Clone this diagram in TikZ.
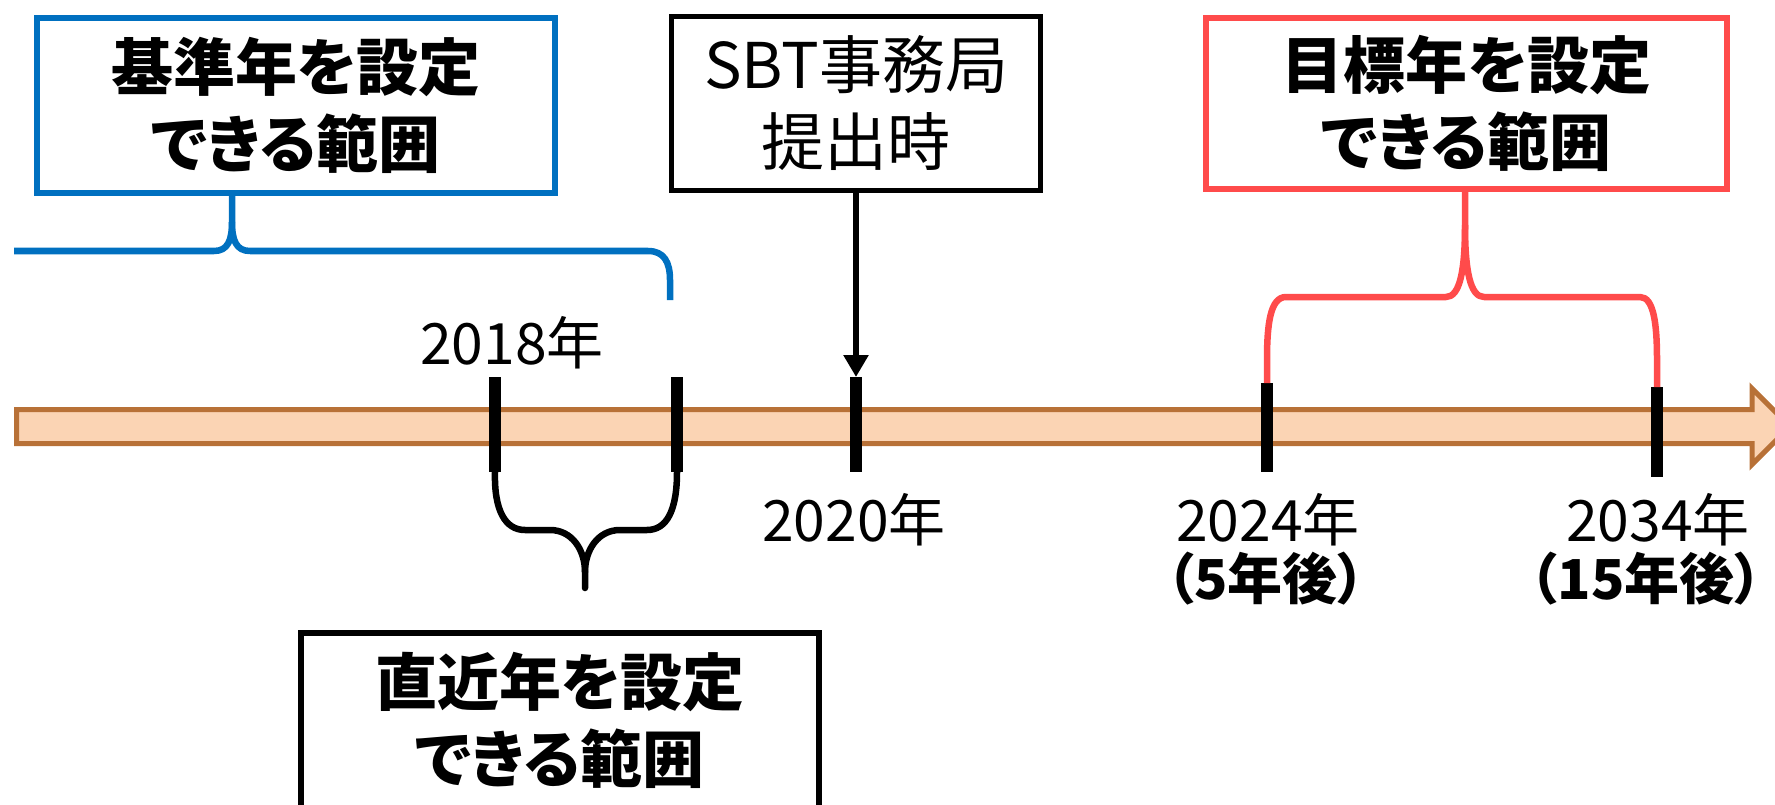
\documentclass[tikz,border=0pt]{standalone}
\usepackage{fontspec}
\setmainfont{Noto Sans CJK JP}
\newfontfamily\jp{Noto Sans CJK JP}
\newfontfamily\jpp{Noto Sans CJK JP}[RawFeature=+palt]
\usetikzlibrary{arrows.meta}
\definecolor{bblue}{HTML}{0070C0}
\definecolor{rred}{HTML}{FF4B4B}
\definecolor{tlfill}{HTML}{FBD4B4}
\definecolor{tlline}{HTML}{B87137}
\tikzset{
  rangebox/.style={draw, line width=6pt, fill=white, inner sep=0pt, align=center,
     font=\jpp\bfseries\fontsize{62}{77}\selectfont},
  plainbox/.style={draw=black, line width=5pt, fill=white, inner sep=0pt, align=center,
     font=\jp\fontsize{63}{77}\selectfont},
  yearlbl/.style={inner sep=0pt, font=\jp\fontsize{57}{60}\selectfont},
  afterlbl/.style={inner sep=0pt, font=\jpp\bfseries\fontsize{55}{60}\selectfont},
  tick/.style={line width=12pt, line cap=butt, black},
  brace/.style={line width=6.5pt, line cap=round, line join=round},
}
\begin{document}
\begin{tikzpicture}[x=1pt,y=-1pt]
\useasboundingbox (0,0) rectangle (1775,805);
% timeline arrow
\draw[line width=5pt, draw=tlline, fill=tlfill, line join=miter]
  (16.5,409.5) -- (1752,409.5) -- (1752,388.5) -- (1790,426.5) -- (1752,464.5)
  -- (1752,443.5) -- (16.5,443.5) -- cycle;
% ticks
\coordinate (t18a) at (495,377); \coordinate (t18ab) at (495,472);
\coordinate (t18b) at (677,377); \coordinate (t18bb) at (677,472);
\coordinate (t20) at (856,377);  \coordinate (t20b) at (856,472);
\coordinate (t24) at (1267,383); \coordinate (t24b) at (1267,472);
\coordinate (t34) at (1657,387); \coordinate (t34b) at (1657,477);
\draw[tick] (t18a) -- (t18ab);
\draw[tick] (t18b) -- (t18bb);
\draw[tick] (t20) -- (t20b);
\draw[tick] (t24) -- (t24b);
\draw[tick] (t34) -- (t34b);
% boxes
\node[rangebox, draw=bblue, minimum width=518pt, minimum height=175pt] (base) at (296,105.5)
  {基準年を設定\\できる範囲};
\node[plainbox, minimum width=369pt, minimum height=174pt] (sbt) at (856,103.5)
  {SBT事務局\\提出時};
\node[rangebox, draw=rred, minimum width=521pt, minimum height=171pt] (target) at (1466.5,103.5)
  {目標年を設定\\できる範囲};
\node[rangebox, draw=black, minimum width=518pt, minimum height=175pt] (recent) at (560,720.5)
  {直近年を設定\\できる範囲};
% labels
\node[yearlbl] (l18) at (512,343) {2018年};
\node[yearlbl] (l20) at (854,520) {2020年};
\node[yearlbl] (l24) at (1268,520) {2024年};
\node[yearlbl] (l34) at (1658,520) {2034年};
\node[afterlbl] (a24) at (1266,579) {（5年後）};
\node[afterlbl] (a34) at (1646,579) {（15年後）};
% arrow
\draw[line width=6.5pt, -{Triangle[width=24pt,length=22pt]}] (sbt.south) -- (t20);
% blue brace
\coordinate (bL) at (14,251);
\coordinate (bC) at (232,196);
\draw[brace, bblue, line cap=butt]
  (bL) -- (214,251) .. controls (228,251) and (232,240) .. (232,222) -- (bC);
\draw[brace, bblue, line cap=butt]
  (232,222) .. controls (232,240) and (236,251) .. (250,251) -- (648,251)
  .. controls (664,251) and (670,262) .. (670,280) -- (670,300);
% red brace
\coordinate (rC) at (1465,192);
\draw[brace, rred, line cap=butt]
  (t24) -- (1267,360) .. controls (1267,325) and (1270,297) .. (1286,297) -- (1446,297)
  .. controls (1460,297) and (1465,270) .. (1465,225) -- (rC);
\draw[brace, rred, line cap=butt]
  (1465,225) .. controls (1465,270) and (1470,297) .. (1484,297) -- (1640,297)
  .. controls (1654,297) and (1657,325) .. (1657,360) -- (t34);
% black brace
\coordinate (kC) at (585,588);
\draw[brace, black]
  (t18ab) .. controls (494,510) and (505,530) .. (525,530) -- (550,530)
  .. controls (572,530) and (585,550) .. (585,572) -- (kC);
\draw[brace, black]
  (585,572) .. controls (585,550) and (598,530) .. (620,530) -- (647,530)
  .. controls (667,530) and (677,510) .. (t18bb);
\end{tikzpicture}
\end{document}
